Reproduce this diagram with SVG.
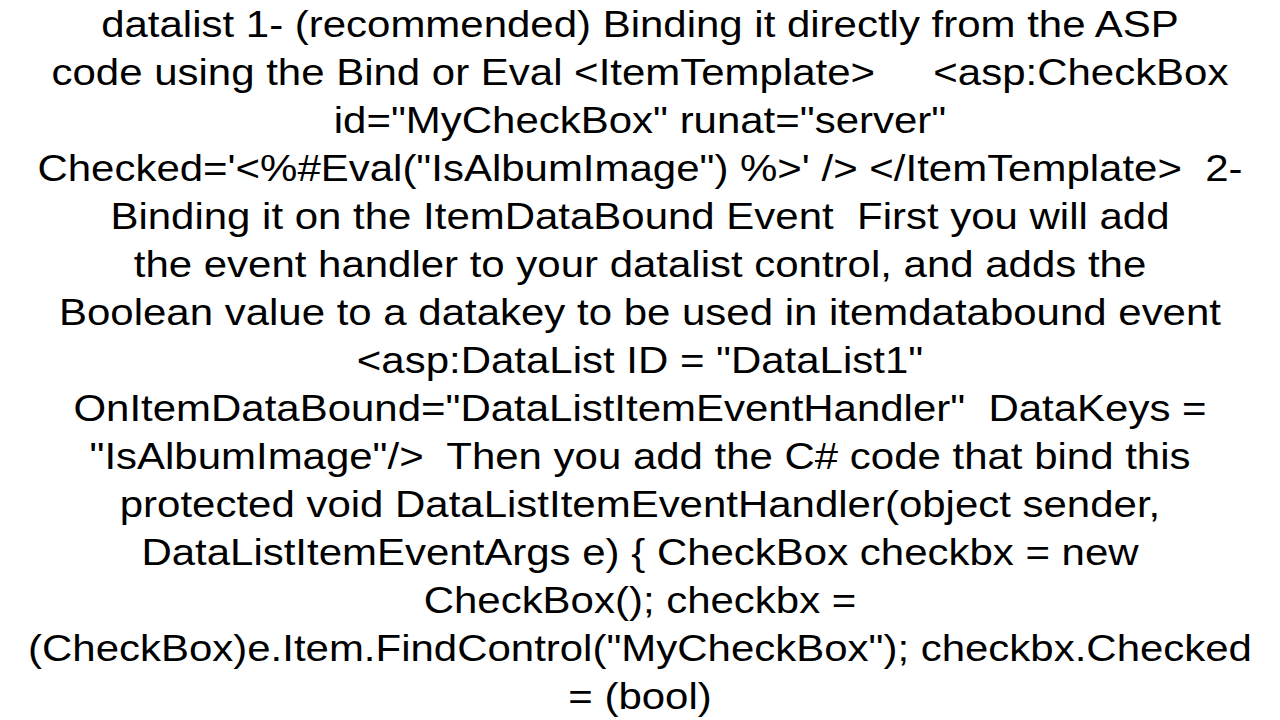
<svg xmlns="http://www.w3.org/2000/svg" width="1280" height="720" viewBox="0 0 1280 720">
<style>text{font-family:"Liberation Sans",Arial,sans-serif;font-size:36px;fill:#000;text-anchor:middle;white-space:pre}</style>
<rect width="1280" height="720" fill="#fff"/>
<g id="text" xml:space="preserve" transform="translate(640 0) scale(1.166 1) translate(-640 0)">
<text x="640" y="37">datalist 1- (recommended) Binding it directly from the ASP</text>
<text x="640" y="85">code using the Bind or Eval &lt;ItemTemplate&gt;     &lt;asp:CheckBox</text>
<text x="640" y="133">id="MyCheckBox" runat="server"</text>
<text x="640" y="181">Checked='&lt;%#Eval("IsAlbumImage") %&gt;' /&gt; &lt;/ItemTemplate&gt;  2-</text>
<text x="640" y="229">Binding it on the ItemDataBound Event  First you will add</text>
<text x="640" y="277">the event handler to your datalist control, and adds the</text>
<text x="640" y="325">Boolean value to a datakey to be used in itemdatabound event</text>
<text x="640" y="373">&lt;asp:DataList ID = "DataList1"</text>
<text x="640" y="421">OnItemDataBound="DataListItemEventHandler"  DataKeys =</text>
<text x="640" y="469">"IsAlbumImage"/&gt;  Then you add the C# code that bind this</text>
<text x="640" y="517">protected void DataListItemEventHandler(object sender,</text>
<text x="640" y="565">DataListItemEventArgs e) { CheckBox checkbx = new</text>
<text x="640" y="613">CheckBox(); checkbx =</text>
<text x="640" y="661">(CheckBox)e.Item.FindControl("MyCheckBox"); checkbx.Checked</text>
<text x="640" y="709">= (bool)</text>
</g>
</svg>
